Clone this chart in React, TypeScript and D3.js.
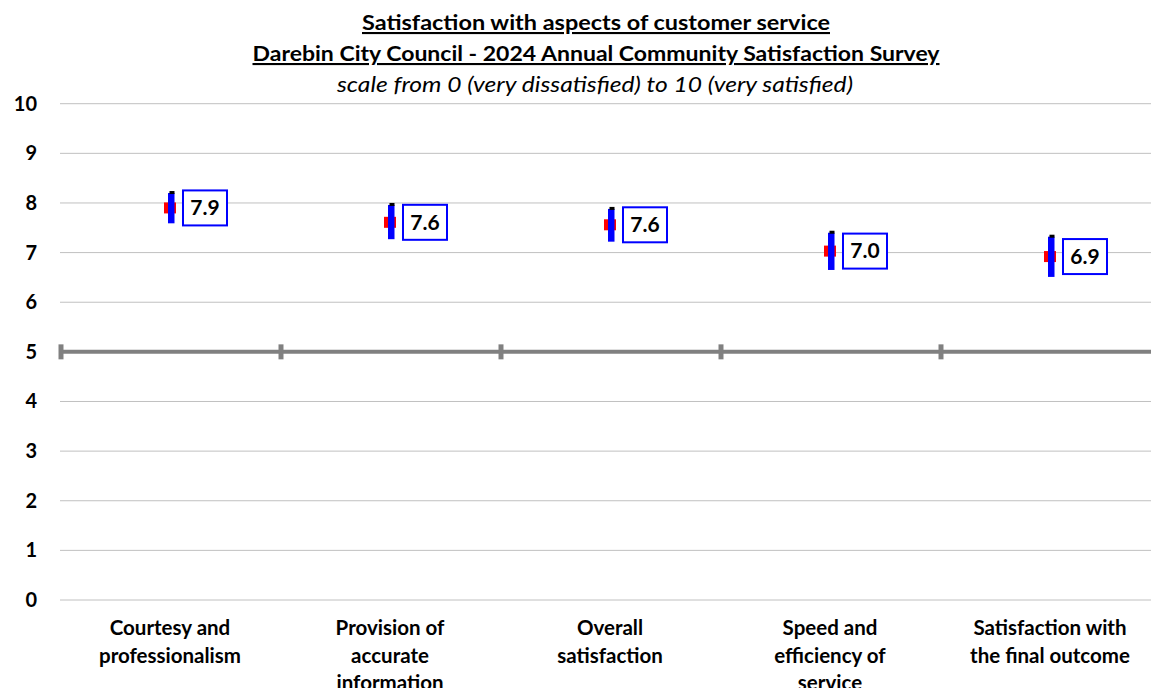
import React from "react";
import * as d3 from "d3";

const categories: string[][] = [
  ["Courtesy and", "professionalism"],
  ["Provision of", "accurate", "information"],
  ["Overall", "satisfaction"],
  ["Speed and", "efficiency of", "service"],
  ["Satisfaction with", "the final outcome"],
];
const means: number[] = [7.9, 7.61, 7.56, 7.03, 6.92];
const lower: number[] = [7.59, 7.27, 7.22, 6.65, 6.51];
const upper: number[] = [8.2, 7.96, 7.88, 7.4, 7.32];
const yTicks: number[] = [0, 1, 2, 3, 4, 5, 6, 7, 8, 9, 10];
const titleLines: string[] = [
  "Satisfaction with aspects of customer service",
  "Darebin City Council - 2024 Annual Community Satisfaction Survey",
];
const subtitle = "scale from 0 (very dissatisfied) to 10 (very satisfied)";

const W = 1151;
const H = 688;
const FONT = "Lato, 'Open Sans', sans-serif";

export default function App() {
  const keys = categories.map((c) => c.join(" "));
  const x = d3.scaleBand<string>().domain(keys).range([60, 1160]).padding(0);
  const y = d3.scaleLinear().domain([0, 10]).range([600, 103.7]);
  const bw = x.bandwidth();
  const boundaries = keys.map((k) => x(k) as number).concat([(x(keys[keys.length - 1]) as number) + bw]);

  return (
    <svg
      width={W}
      height={H}
      style={{ position: "absolute", left: 0, top: 0, background: "#fff" }}
      fontFamily={FONT}
    >
      {/* title */}
      <text x={596} y={30} textAnchor="middle" fontSize={21} fontWeight="bold" textDecoration="underline"
        textLength={468} lengthAdjust="spacingAndGlyphs">
        {titleLines[0]}
      </text>
      <text x={596} y={61} textAnchor="middle" fontSize={21} fontWeight="bold" textDecoration="underline"
        textLength={687} lengthAdjust="spacingAndGlyphs">
        {titleLines[1]}
      </text>
      <text x={595} y={92} textAnchor="middle" fontSize={22} fontStyle="italic"
        textLength={516} lengthAdjust="spacingAndGlyphs">
        {subtitle}
      </text>

      {/* gridlines */}
      {yTicks.filter((t) => t !== 5).map((t) => (
        <line key={t} x1={60} x2={W} y1={y(t)} y2={y(t)} stroke="#c0c0c0" strokeWidth={1} />
      ))}
      {/* y labels */}
      {yTicks.map((t) => (
        <text key={"l" + t} x={37} y={y(t)} dy="0.35em" textAnchor="end" fontSize={20} fontWeight="bold">
          {t}
        </text>
      ))}

      {/* midpoint line at 5 */}
      <line x1={60} x2={W} y1={y(5)} y2={y(5)} stroke="#808080" strokeWidth={4} />
      {boundaries.map((b, i) => (
        <line key={"b" + i} x1={b + 1} x2={b + 1} y1={y(5) - 7.5} y2={y(5) + 7.5} stroke="#808080" strokeWidth={5} />
      ))}

      {/* category labels */}
      {categories.map((lines, i) => {
        const cx = (x(keys[i]) as number) + bw / 2;
        return (
          <text key={"c" + i} textAnchor="middle" fontSize={20.5} fontWeight="bold">
            {lines.map((ln, j) => (
              <tspan key={j} x={cx} y={635 + j * 27.5}>
                {ln}
              </tspan>
            ))}
          </text>
        );
      })}

      {/* marks */}
      {keys.map((k, i) => {
        const cx = (x(k) as number) + bw / 2;
        const ym = y(means[i]);
        const yl = y(lower[i]);
        const yu = y(upper[i]);
        return (
          <g key={"m" + i}>
            <rect x={cx - 6} y={ym - 5.5} width={12} height={11} fill="#ff0000" />
            <rect x={cx - 2} y={yu} width={6.5} height={yl - yu} fill="#0000ff" />
            <rect x={cx - 0.5} y={yu - 2} width={5} height={3} fill="#000" />
            <rect x={cx + 13} y={ym - 17.5} width={44} height={35} fill="#fff" stroke="#0000ff" strokeWidth={2} />
            <text x={cx + 35} y={ym} dy="0.35em" textAnchor="middle" fontSize={21} fontWeight="bold">
              {means[i].toFixed(1)}
            </text>
          </g>
        );
      })}
    </svg>
  );
}
